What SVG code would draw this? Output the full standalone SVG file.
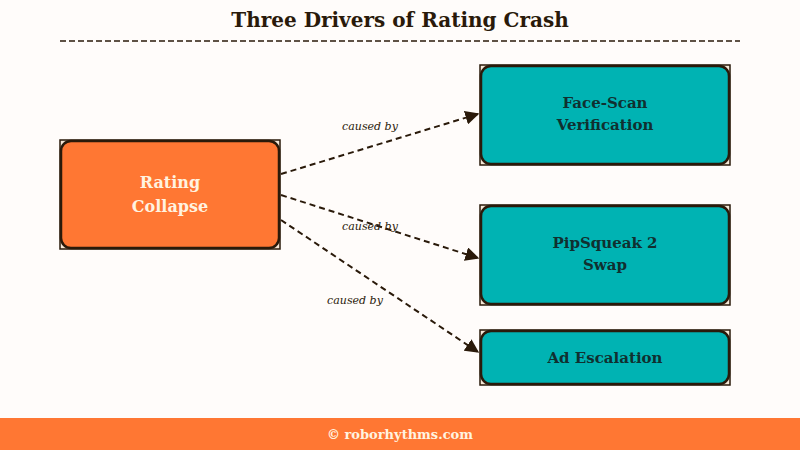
<svg xmlns="http://www.w3.org/2000/svg" width="800" height="450" viewBox="0 0 800 450">
<style>
.t{font-family:"DejaVu Serif","Liberation Serif",serif;font-weight:bold;text-anchor:middle}
.lbl{font-family:"DejaVu Serif","Liberation Serif",serif;font-style:italic;font-size:11px;fill:#2a1a0a;text-anchor:middle}
.e{stroke:#2a1a0a;stroke-width:2;stroke-dasharray:6,4;fill:none}
.sq{fill:#f5e8d8;stroke:#2a1a0a;stroke-width:1.5}
.or{fill:#ff7733;stroke:#2a1a0a;stroke-width:2.5}
.tl{fill:#00b3b3;stroke:#2a1a0a;stroke-width:2.5}
</style>
<defs><marker id="a" viewBox="0 0 10 10" refX="9" refY="5" markerWidth="7" markerHeight="7" orient="auto"><path d="M0,0L10,5L0,10z" fill="#2a1a0a"/></marker></defs>
<rect width="800" height="450" fill="#fffcfa"/>
<text class="t" x="400" y="27" font-size="20" fill="#2a1a0a">Three Drivers of Rating Crash</text>
<line x1="60" y1="41" x2="740" y2="41" stroke="#2a1a0a" stroke-width="1.5" stroke-dasharray="6,3"/>
<g id="connectors">
<path class="e" d="M281,174L478,114" marker-end="url(#a)"/>
<path class="e" d="M281,195L478,258" marker-end="url(#a)"/>
<path class="e" d="M281,220L478,352" marker-end="url(#a)"/>
<text class="lbl" x="370" y="130">caused by</text>
<text class="lbl" x="370" y="230">caused by</text>
<text class="lbl" x="355" y="304">caused by</text>
</g>
<g id="rating">
<rect class="sq" x="60" y="140" width="220" height="109"/>
<rect class="or" x="61" y="141" width="218" height="107" rx="10"/>
<text class="t" x="170" y="188" font-size="16" fill="#fff3e0">Rating</text>
<text class="t" x="170" y="212" font-size="16" fill="#fff3e0">Collapse</text>
</g>
<g id="face">
<rect class="sq" x="480" y="65" width="250" height="100"/>
<rect class="tl" x="481" y="66" width="248" height="98" rx="10"/>
<text class="t" x="605" y="108" font-size="15" fill="#103030">Face-Scan</text>
<text class="t" x="605" y="130" font-size="15" fill="#103030">Verification</text>
</g>
<g id="pip">
<rect class="sq" x="480" y="205" width="250" height="100"/>
<rect class="tl" x="481" y="206" width="248" height="98" rx="10"/>
<text class="t" x="605" y="248" font-size="15" fill="#103030">PipSqueak 2</text>
<text class="t" x="605" y="270" font-size="15" fill="#103030">Swap</text>
</g>
<g id="ad">
<rect class="sq" x="480" y="330" width="250" height="55"/>
<rect class="tl" x="481" y="331" width="248" height="53" rx="10"/>
<text class="t" x="605" y="363" font-size="15" fill="#103030">Ad Escalation</text>
</g>
<rect x="0" y="418" width="800" height="32" fill="#ff7733"/>
<text class="t" x="400" y="439" font-size="13" fill="#fff3e0">© roborhythms.com</text>
</svg>
